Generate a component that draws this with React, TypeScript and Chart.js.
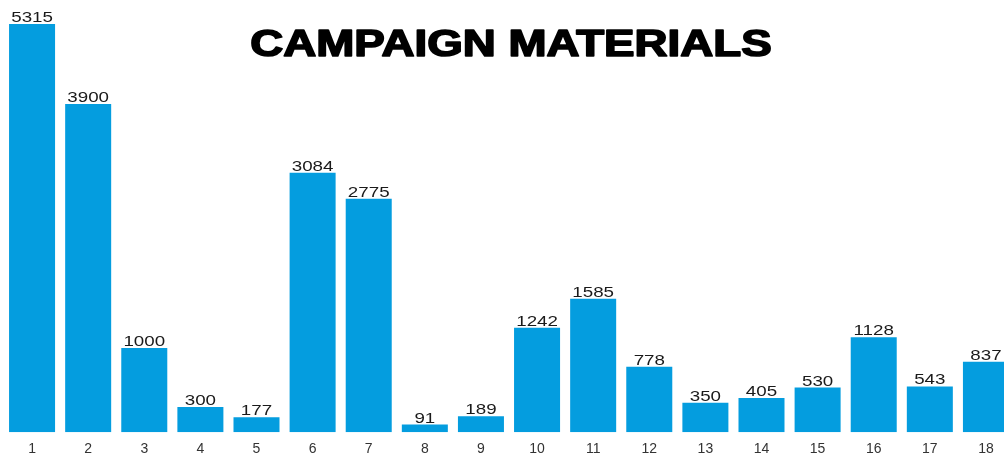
import React, { useEffect, useRef } from "react";
import { Chart, registerables } from "chart.js";

Chart.register(...registerables);

const categories = ["1", "2", "3", "4", "5", "6", "7", "8", "9", "10", "11", "12", "13", "14", "15", "16", "17", "18"];
const values = [5315, 3900, 1000, 300, 177, 3084, 2775, 91, 189, 1242, 1585, 778, 350, 405, 530, 1128, 543, 837];
const titleText = "CAMPAIGN MATERIALS";

const BAR_COLOR = "#049ddf";
const FONT = "'Liberation Sans', Arial, sans-serif";

const valueLabels = {
  id: "valueLabels",
  afterDatasetsDraw(chart: any) {
    const ctx = chart.ctx;
    const meta = chart.getDatasetMeta(0);
    const top = chart.chartArea.top;
    ctx.save();
    ctx.font = `15px ${FONT}`;
    ctx.fillStyle = "#1a1a1a";
    ctx.textAlign = "center";
    ctx.textBaseline = "alphabetic";
    meta.data.forEach((el: any, i: number) => {
      const y = Math.max(el.y, top);
      ctx.save();
      ctx.translate(el.x, y - 2);
      ctx.scale(1.25, 1);
      ctx.fillText(String(values[i]), 0, 0);
      ctx.restore();
    });
    ctx.restore();
  },
};

const titlePlugin = {
  id: "bigTitle",
  afterDraw(chart: any) {
    const ctx = chart.ctx;
    ctx.save();
    ctx.translate(511, 46);
    ctx.scale(1.27, 1);
    ctx.font = `bold 36px ${FONT}`;
    ctx.fillStyle = "#000";
    ctx.strokeStyle = "#000";
    ctx.lineWidth = 1.6;
    ctx.lineJoin = "round";
    ctx.textAlign = "center";
    ctx.textBaseline = "middle";
    ctx.fillText(titleText, 0, 0);
    ctx.strokeText(titleText, 0, 0);
    ctx.restore();
  },
};

export default function App() {
  const ref = useRef<HTMLCanvasElement | null>(null);
  useEffect(() => {
    if (!ref.current) return;
    const chart = new Chart(ref.current, {
      type: "bar",
      data: {
        labels: categories,
        datasets: [
          {
            data: values,
            backgroundColor: BAR_COLOR,
            borderWidth: 0,
            categoryPercentage: 1,
            barPercentage: 0.82,
          },
        ],
      },
      options: {
        animation: false,
        responsive: false,
        devicePixelRatio: 1,
        layout: { padding: { left: 4, right: 6, top: 24, bottom: 0 } },
        plugins: { legend: { display: false }, tooltip: { enabled: false }, title: { display: false } },
        scales: {
          x: {
            grid: { display: false },
            border: { display: false },
            ticks: { color: "#333", font: { family: FONT, size: 14 }, padding: 1, maxRotation: 0, autoSkip: false },
          },
          y: { display: false, min: 0, max: 4850 },
        },
      },
      plugins: [valueLabels, titlePlugin],
    });
    return () => chart.destroy();
  }, []);
  return (
    <div style={{ position: "fixed", left: 0, top: 0, width: "100vw", height: "100vh", overflow: "hidden", background: "#fff" }}>
      <canvas ref={ref} width={1020} height={459} style={{ position: "absolute", left: 0, top: 0, width: 1020, height: 459 }} />
    </div>
  );
}
